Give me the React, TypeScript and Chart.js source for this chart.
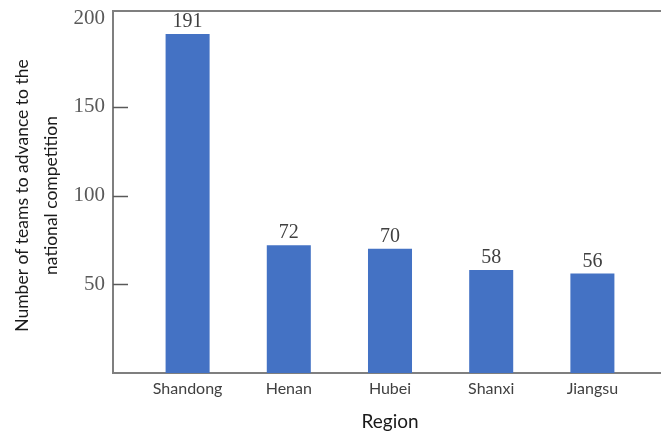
import React, { useEffect, useRef } from "react";
import { Chart, registerables } from "chart.js";

Chart.register(...registerables);

// Teams advancing to the national competition, by region
const regions = ["Shandong", "Henan", "Hubei", "Shanxi", "Jiangsu"];
const teamCounts = [191, 72, 70, 58, 56];
const yTickValues = [50, 100, 150, 200];
const yTitleLines = ["Number of teams to advance to the", "national competition"];
const xTitle = "Region";

const BAR_BLUE = "#4472C4";
const FRAME_GREY = "#7f7f7f";
const SANS = 'Lato, "Open Sans", sans-serif';
const SERIF = '"Liberation Serif", "Times New Roman", serif';

// Open frame (left, top, bottom) plus inward tick marks on the value axis
const framePlugin = {
  id: "frame",
  beforeDatasetsDraw(chart: any) {
    const { ctx, chartArea, scales } = chart;
    const frameLeft = chartArea.left - 24;
    const frameTop = chartArea.top - 7;
    const frameRight = chart.width;
    ctx.save();
    ctx.strokeStyle = FRAME_GREY;
    ctx.lineWidth = 2;
    ctx.beginPath();
    ctx.moveTo(frameRight, frameTop);
    ctx.lineTo(frameLeft, frameTop);
    ctx.lineTo(frameLeft, chartArea.bottom);
    ctx.lineTo(frameRight, chartArea.bottom);
    ctx.stroke();

    const y = scales.y;
    ctx.lineWidth = 1.5;
    ctx.strokeStyle = "#595959";
    y.ticks.forEach((t: any) => {
      if (t.value <= y.min || t.value >= y.max) return;
      const py = Math.round(y.getPixelForValue(t.value)) + 0.5;
      ctx.beginPath();
      ctx.moveTo(frameLeft, py);
      ctx.lineTo(frameLeft + 15, py);
      ctx.stroke();
    });
    ctx.restore();
  },
};

// Value printed above each bar
const valueLabelPlugin = {
  id: "valueLabels",
  afterDatasetsDraw(chart: any) {
    const { ctx } = chart;
    const meta = chart.getDatasetMeta(0);
    const values = chart.data.datasets[0].data as number[];
    ctx.save();
    ctx.font = `20px ${SERIF}`;
    ctx.fillStyle = "#404040";
    ctx.textAlign = "center";
    ctx.textBaseline = "alphabetic";
    meta.data.forEach((bar: any, i: number) => {
      ctx.fillText(String(values[i]), bar.x, bar.y - 7);
    });
    ctx.restore();
  },
};

export default function App() {
  const canvasRef = useRef<HTMLCanvasElement | null>(null);

  useEffect(() => {
    if (!canvasRef.current) return;
    const chart = new Chart(canvasRef.current, {
      type: "bar",
      data: {
        labels: regions,
        datasets: [
          {
            data: teamCounts,
            backgroundColor: BAR_BLUE,
            borderWidth: 0,
            barPercentage: 0.435,
            categoryPercentage: 1,
          },
        ],
      },
      options: {
        animation: false,
        responsive: true,
        maintainAspectRatio: false,
        layout: { padding: { top: 18, right: 18, bottom: 0, left: 0 } },
        plugins: {
          legend: { display: false },
          tooltip: { enabled: false },
        },
        scales: {
          x: {
            type: "category",
            offset: true,
            grid: { display: false, drawTicks: false },
            border: { display: false },
            ticks: {
              color: "#404040",
              font: { family: SANS, size: 16 },
              padding: 6,
            },
            title: {
              display: true,
              text: xTitle,
              color: "#1a1a1a",
              font: { family: SANS, size: 19 },
              padding: { top: 4, bottom: 2 },
            },
            afterFit(scale: any) {
              scale.height = 62;
            },
          },
          y: {
            min: 0,
            max: 200,
            grid: { display: false, drawTicks: false },
            border: { display: false },
            afterBuildTicks(scale: any) {
              scale.ticks = [0, ...yTickValues].map((v) => ({ value: v }));
            },
            ticks: {
              color: "#595959",
              font: { family: SERIF, size: 21 },
              padding: 32,
              callback: (v: any) => (Number(v) === 0 ? "" : String(v)),
            },
            title: {
              display: true,
              text: yTitleLines,
              color: "#1a1a1a",
              font: { family: SANS, size: 17.5, lineHeight: 1.65 },
              padding: { top: 8, bottom: 0 },
            },
            afterFit(scale: any) {
              scale.width = 137;
              scale.paddingTop = 0;
              scale.paddingBottom = 0;
            },
          },
        },
      },
      plugins: [framePlugin, valueLabelPlugin],
    });
    return () => chart.destroy();
  }, []);

  return (
    <div
      style={{
        position: "fixed",
        left: 0,
        top: 0,
        width: 661,
        height: 435,
        background: "#ffffff",
      }}
    >
      <canvas ref={canvasRef} />
    </div>
  );
}
